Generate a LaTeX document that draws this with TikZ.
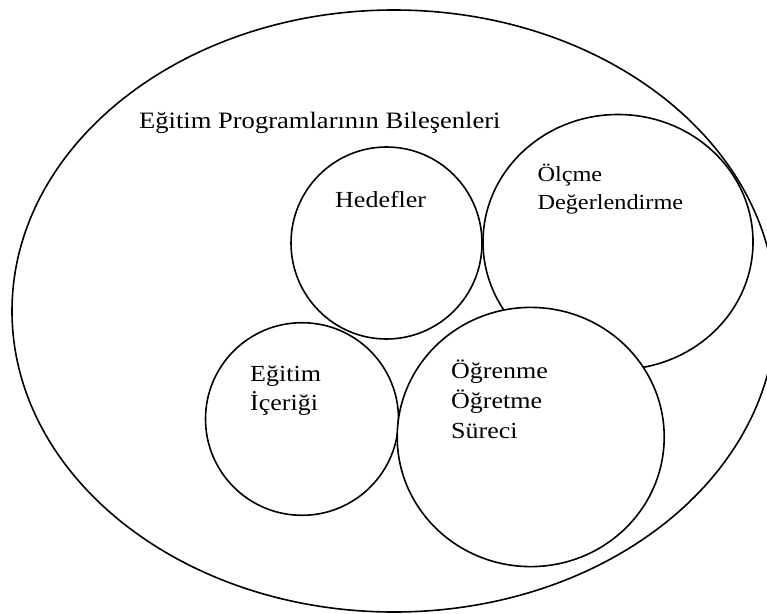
\documentclass[tikz,border=0pt]{standalone}
\usepackage{fontspec}
\setmainfont[FakeStretch=1.13]{Liberation Serif}
\begin{document}
\begin{tikzpicture}[x=1pt,y=-1pt,
  ring/.style={line width=1.6pt},
  label/.style={inner sep=0pt,anchor=base west,font=\fontsize{23}{28}\selectfont},
  smalllabel/.style={label,font=\fontsize{21.5}{26}\selectfont}]
\useasboundingbox (0,0) rectangle (767,613);
\clip (0,0) rectangle (767,613);
% outer boundary of all components
\draw[ring] (394,311) ellipse [x radius=382, y radius=301];
% component circles
\draw[ring] (386.5,243) ellipse [x radius=95.5, y radius=96];
\draw[ring] (618,242) ellipse [x radius=135, y radius=127.5];
\draw[ring] (302,419) ellipse [x radius=96.5, y radius=96.3];
\draw[ring,fill=white] (530.7,437) ellipse [x radius=133.5, y radius=129.6];
% labels
\node[label,font=\fontsize{23.5}{28}\selectfont] (title) at (139,128.3) {Eğitim Programlarının Bileşenleri};
\node[label] (hed) at (335,207.7) {Hedefler};
\node[smalllabel] (olc1) at (537.3,181.7) {Ölçme};
\node[smalllabel] (olc2) at (537.3,209.3) {Değerlendirme};
\node[label] (ici1) at (250,381.7) {Eğitim};
\node[label] (ici2) at (250,410) {İçeriği};
\node[label] (ogr1) at (451,378.4) {Öğrenme};
\node[label] (ogr2) at (451,408.5) {Öğretme};
\node[label] (ogr3) at (451,438.6) {Süreci};
\end{tikzpicture}
\end{document}
